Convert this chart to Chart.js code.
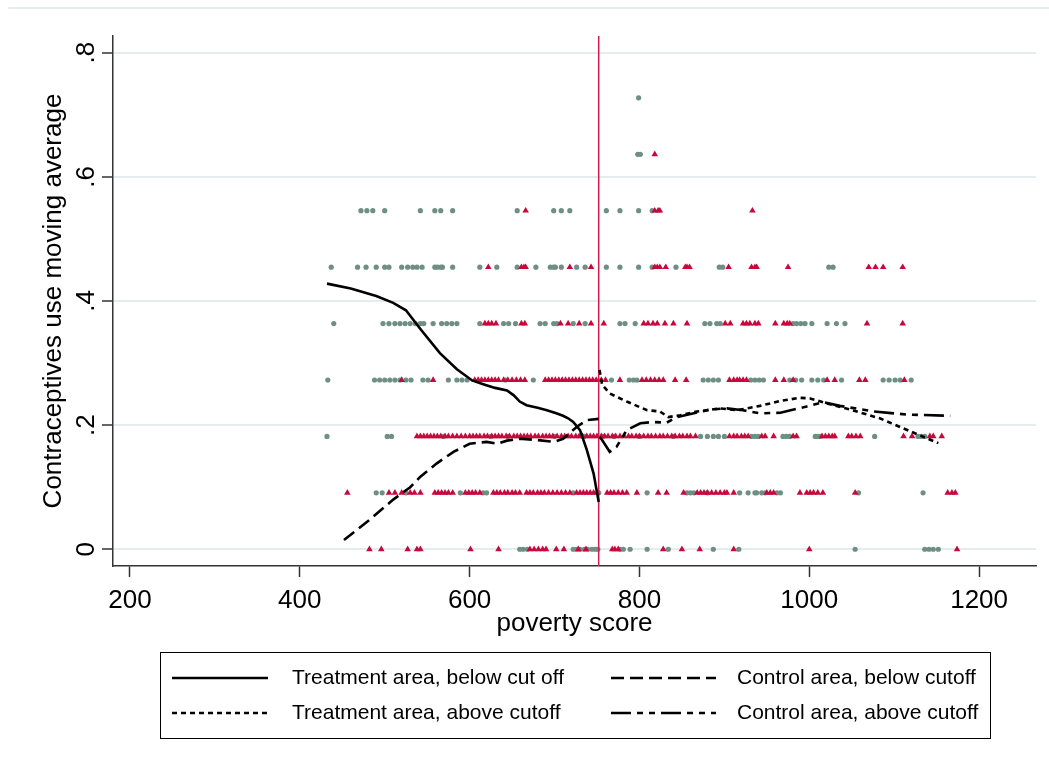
<!DOCTYPE html>
<html>
<head>
<meta charset="utf-8">
<script src="https://cdn.jsdelivr.net/npm/chart.js@4.4.0/dist/chart.umd.min.js"></script>
<style>
	html, body { margin: 0; padding: 0; background: #fff; }
</style>
</head>
<body>
<canvas id="myChart" width="1049" height="769"></canvas>
<script>
"use strict";

// outcome levels (share of 11 households)
const yLevels = [0, 0.0909, 0.1818, 0.2727, 0.3636, 0.4545, 0.5455, 0.6364, 0.7273];

// control area observations (grey dots), one list of poverty scores per level
const controlByLevel = [
	[659, 663, 668, 722, 726, 730, 735, 739, 744, 748, 751, 777, 781, 789, 809, 834, 887, 917, 1054, 1136, 1141, 1146, 1152],
	[490, 497, 525, 589, 616, 620, 722, 752, 809, 856, 860, 864, 880, 918, 928, 936, 938, 944, 948, 962, 966, 1058, 1134],
	[432, 503, 508, 569, 625, 645, 700, 735, 757, 770, 800, 840, 872, 880, 887, 893, 900, 932, 936, 940, 969, 973, 977, 1007, 1010, 1013, 1077, 1128, 1132, 1136],
	[433, 488, 494, 500, 506, 512, 518, 525, 531, 545, 551, 575, 585, 591, 597, 642, 675, 767, 788, 793, 797, 875, 881, 887, 893, 931, 936, 941, 946, 977, 984, 991, 1003, 1010, 1017, 1038, 1087, 1094, 1101, 1107, 1120],
	[440, 498, 505, 512, 518, 524, 530, 536, 542, 546, 557, 567, 573, 579, 585, 612, 640, 646, 654, 683, 689, 699, 703, 722, 736, 777, 783, 795, 877, 883, 891, 895, 981, 985, 990, 995, 1003, 1021, 1032, 1042],
	[437, 468, 478, 490, 500, 505, 520, 527, 533, 538, 544, 559, 562, 566, 568, 580, 612, 632, 656, 678, 695, 699, 701, 708, 726, 736, 761, 777, 799, 815, 843, 894, 898, 1023, 1028],
	[472, 479, 486, 500, 542, 559, 566, 580, 656, 699, 708, 718, 761, 777, 799, 815],
	[798, 801],
	[799]
];

// treatment area observations (red triangles)
const treatmentByLevel = [
	[482, 496, 527, 538, 542, 601, 634, 671, 676, 681, 686, 690, 702, 711, 728, 737, 768, 771, 775, 828, 850, 871, 911, 1000, 1174],
	[456, 505, 512, 520, 530, 535, 542, 559, 563, 567, 571, 575, 580, 595, 599, 603, 607, 612, 628, 632, 636, 641, 645, 650, 654, 659, 667, 671, 675, 680, 684, 688, 693, 698, 703, 708, 713, 718, 726, 730, 734, 738, 742, 746, 750, 762, 766, 770, 775, 780, 785, 797, 822, 832, 852, 868, 872, 876, 880, 885, 890, 895, 900, 903, 911, 950, 954, 958, 989, 997, 1001, 1005, 1010, 1016, 1054, 1163, 1168, 1172],
	[538, 542, 546, 550, 554, 558, 562, 566, 571, 575, 580, 585, 590, 595, 600, 604, 608, 612, 617, 621, 626, 630, 634, 638, 643, 647, 652, 656, 660, 664, 668, 672, 677, 681, 686, 690, 694, 698, 703, 708, 712, 716, 720, 725, 729, 733, 738, 742, 746, 750, 755, 759, 763, 768, 772, 777, 782, 787, 791, 796, 800, 805, 810, 814, 819, 824, 828, 833, 838, 842, 847, 851, 856, 860, 866, 906, 911, 915, 920, 924, 928, 944, 948, 958, 981, 985, 1015, 1019, 1023, 1027, 1030, 1046, 1050, 1055, 1060, 1111, 1121, 1142, 1146, 1156],
	[520, 557, 606, 610, 614, 618, 622, 626, 630, 634, 640, 645, 650, 655, 660, 665, 689, 693, 697, 701, 705, 709, 713, 717, 721, 725, 729, 733, 737, 741, 745, 749, 755, 760, 777, 803, 808, 813, 818, 823, 828, 842, 855, 906, 911, 915, 918, 922, 926, 960, 970, 981, 1021, 1030, 1059, 1066, 1112],
	[618, 622, 626, 631, 661, 665, 707, 716, 729, 743, 758, 805, 810, 816, 821, 830, 840, 856, 901, 907, 922, 926, 930, 936, 940, 960, 970, 974, 977, 1068, 1110],
	[622, 661, 664, 666, 718, 743, 818, 821, 824, 831, 854, 856, 859, 905, 932, 936, 938, 975, 1070, 1078, 1087, 1110],
	[666, 818, 822, 824, 933],
	[818],
	[]
];

// moving averages
const treatBelowX = [432, 460, 490, 510, 525, 542, 565, 585, 603, 616, 630, 644, 652, 659, 667, 680, 691, 702, 710, 716, 722, 730, 738, 746, 752];
const treatBelowY = [0.428, 0.420, 0.408, 0.397, 0.385, 0.355, 0.316, 0.290, 0.272, 0.266, 0.260, 0.256, 0.248, 0.238, 0.232, 0.228, 0.224, 0.219, 0.215, 0.211, 0.205, 0.192, 0.160, 0.122, 0.076];

const controlBelowX = [452, 480, 510, 530, 542, 561, 581, 600, 620, 632, 644, 659, 679, 699, 710, 726, 738, 752];
const controlBelowY = [0.015, 0.045, 0.080, 0.100, 0.117, 0.138, 0.157, 0.170, 0.173, 0.170, 0.175, 0.178, 0.176, 0.173, 0.178, 0.197, 0.208, 0.210];

const treatAboveX = [753, 756, 765, 785, 809, 824, 834, 848, 868, 895, 915, 942, 966, 989, 1001, 1021, 1056, 1083, 1107, 1131, 1152];
const treatAboveY = [0.289, 0.265, 0.251, 0.238, 0.224, 0.222, 0.213, 0.216, 0.222, 0.227, 0.224, 0.231, 0.239, 0.244, 0.243, 0.235, 0.222, 0.211, 0.197, 0.183, 0.171];

const controlAboveX = [753, 756, 765, 773, 785, 801, 816, 832, 844, 864, 883, 903, 922, 942, 966, 997, 1017, 1036, 1076, 1115, 1166];
const controlAboveY = [0.181, 0.176, 0.157, 0.165, 0.192, 0.203, 0.205, 0.204, 0.213, 0.219, 0.225, 0.227, 0.224, 0.219, 0.220, 0.230, 0.237, 0.231, 0.222, 0.217, 0.215];

const cutoff = 752;

const xTicks = [200, 400, 600, 800, 1000, 1200];
const yTicks = [0, 0.2, 0.4, 0.6, 0.8];
const yTickLabels = ["0", ".2", ".4", ".6", ".8"];

const legendLabels = [
	"Treatment area, below cut off",
	"Control area, below cutoff",
	"Treatment area, above cutoff",
	"Control area, above cutoff"
];

function levelPoints(rows) {
	const pts = [];
	rows.forEach(function (xs, i) {
		xs.forEach(function (x) {
			pts.push({ x: x, y: yLevels[i] });
		});
	});
	return pts;
}

function zip(xs, ys) {
	return xs.map(function (x, i) {
		return { x: x, y: ys[i] };
	});
}

const AXIS_FONT = { family: "'Liberation Sans', Arial, sans-serif", size: 26 };

function lineSet(label, xs, ys, dash) {
	return {
		type: "scatter",
		label: label,
		data: zip(xs, ys),
		showLine: true,
		borderColor: "#000",
		borderWidth: 2.6,
		borderDash: dash,
		pointRadius: 0,
		fill: false,
		order: 1,
	};
}

const lineSets = [
	lineSet(legendLabels[0], treatBelowX, treatBelowY, []),
	lineSet(legendLabels[1], controlBelowX, controlBelowY, [13, 6]),
	lineSet(legendLabels[2], treatAboveX, treatAboveY, [5, 4]),
	lineSet(legendLabels[3], controlAboveX, controlAboveY, [20, 6, 6, 6, 6, 6]),
];

// background line and the bottom legend box
const framePlugin = {
	id: "frame",
	beforeDraw(chart) {
		const ctx = chart.ctx;
		ctx.save();
		ctx.fillStyle = "#fff";
		ctx.fillRect(0, 0, chart.width, chart.height);
		ctx.strokeStyle = "#e6eef0";
		ctx.lineWidth = 2;
		ctx.beginPath();
		ctx.moveTo(8, 8);
		ctx.lineTo(chart.width, 8);
		ctx.stroke();
		ctx.restore();
	},
	afterDraw(chart) {
		const ctx = chart.ctx;
		ctx.save();
		ctx.strokeStyle = "#000";
		ctx.lineWidth = 1;
		ctx.strokeRect(160.5, 652.5, 830, 86);

		const cols = [{ x0: 172, x1: 268, tx: 292 }, { x0: 611, x1: 716, tx: 737 }];
		const rows = [678, 713];
		ctx.font = "21px 'Liberation Sans', Arial, sans-serif";
		ctx.textBaseline = "middle";
		ctx.fillStyle = "#000";
		lineSets.forEach(function (ds, i) {
			const c = cols[i % 2];
			const y = rows[Math.floor(i / 2)];
			ctx.strokeStyle = "#000";
			ctx.lineWidth = 2.6;
			ctx.setLineDash(ds.borderDash);
			ctx.beginPath();
			ctx.moveTo(c.x0, y);
			ctx.lineTo(c.x1, y);
			ctx.stroke();
			ctx.setLineDash([]);
			ctx.fillText(ds.label, c.tx, y);
		});
		ctx.restore();
	},
};

const ctx = document.getElementById("myChart");

new Chart(ctx, {
	type: "scatter",
	data: {
		datasets: lineSets.concat([
			{
				label: "cutoff",
				data: [{ x: cutoff, y: -0.03 }, { x: cutoff, y: 0.83 }],
				showLine: true,
				borderColor: "#d41c4c",
				borderWidth: 1.5,
				pointRadius: 0,
				order: 3,
			},
			{
				label: "treatment",
				data: levelPoints(treatmentByLevel),
				pointStyle: "triangle",
				pointRadius: 3.8,
				pointBorderWidth: 0,
				pointBackgroundColor: "#c8083c",
				backgroundColor: "#c8083c",
				order: 4,
			},
			{
				label: "control",
				data: levelPoints(controlByLevel),
				pointStyle: "circle",
				pointRadius: 2.6,
				pointBorderWidth: 0,
				pointBackgroundColor: "#6f8f85",
				backgroundColor: "#6f8f85",
				order: 5,
			},
		]),
	},
	options: {
		responsive: false,
		animation: false,
		events: [],
		layout: { padding: { left: 0, top: 36, right: 13, bottom: 123 } },
		plugins: {
			legend: { display: false },
			tooltip: { enabled: false },
		},
		scales: {
			x: {
				type: "linear",
				min: 180,
				max: 1267,
				afterBuildTicks: function (axis) {
					axis.ticks = xTicks.map(function (v) { return { value: v }; });
				},
				afterFit: function (axis) { axis.height = 80; },
				ticks: {
					font: AXIS_FONT,
					color: "#000",
					padding: 8,
					maxRotation: 0,
					callback: function (value) { return String(value); },
				},
				grid: { drawOnChartArea: false, tickLength: 11, tickColor: "#333", tickWidth: 1.5 },
				border: { color: "#333", width: 1.5 },
				title: { display: true, text: "poverty score", font: AXIS_FONT, color: "#000", padding: { top: 0, bottom: 7 } },
			},
			y: {
				type: "linear",
				min: -0.027,
				max: 0.827,
				afterBuildTicks: function (axis) {
					axis.ticks = yTicks.map(function (v) { return { value: v }; });
				},
				afterFit: function (axis) { axis.width = 113; },
				ticks: {
					font: AXIS_FONT,
					color: "#000",
					padding: 4,
					minRotation: 90,
					maxRotation: 90,
					crossAlign: "center",
					callback: function (value) {
						const i = yTicks.indexOf(value);
						return i >= 0 ? yTickLabels[i] : "";
					},
				},
				grid: { color: "#e4ecee", lineWidth: 2, tickLength: 11, tickColor: "#333", tickWidth: 1.5 },
				border: { color: "#333", width: 1.5 },
				title: { display: true, text: "Contraceptives use moving average", font: AXIS_FONT, color: "#000", padding: { top: 38, bottom: 0 } },
			},
		},
	},
	plugins: [framePlugin],
});
</script>
</body>
</html>
